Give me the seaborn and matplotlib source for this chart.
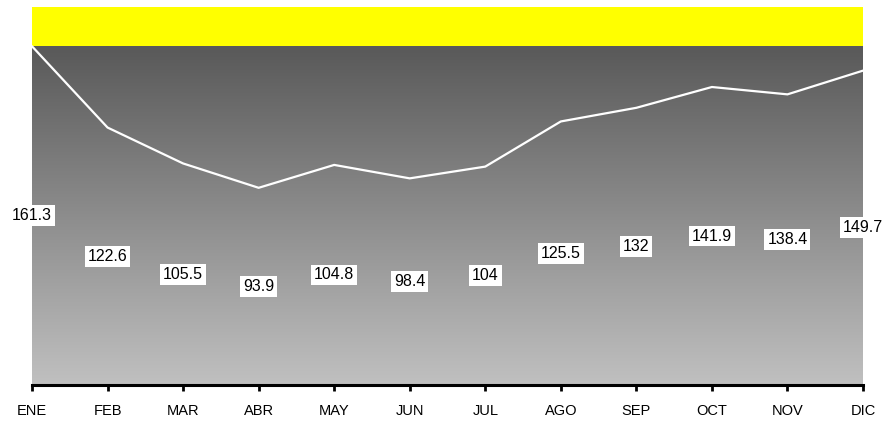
import numpy as np
import pandas as pd
import matplotlib
matplotlib.use("Agg")
import matplotlib.pyplot as plt
from matplotlib.colors import LinearSegmentedColormap
import seaborn as sns

# Monthly values
months = ["ENE", "FEB", "MAR", "ABR", "MAY", "JUN", "JUL", "AGO", "SEP", "OCT", "NOV", "DIC"]
values = [161.3, 122.6, 105.5, 93.9, 104.8, 98.4, 104.0, 125.5, 132.0, 141.9, 138.4, 149.7]
value_labels = ["161.3", "122.6", "105.5", "93.9", "104.8", "98.4", "104", "125.5", "132", "141.9", "138.4", "149.7"]

df = pd.DataFrame({"mes": months, "valor": values, "x": np.arange(len(months))})

sns.set_style("white")
plt.rcParams["font.family"] = ["Liberation Sans", "DejaVu Sans"]

fig = plt.figure(figsize=(8.84, 4.21), dpi=100)
ax = fig.add_axes([32 / 884, 1 - 385 / 421, (863 - 32) / 884, (385 - 7) / 421])

ymax = 180
vmax = max(values)
n = len(months)

# Vertical gray gradient below the maximum, yellow band above it
cmap = LinearSegmentedColormap.from_list("gris", ["#c0c0c0", "#595959"])
grad = np.linspace(0, 1, 256).reshape(-1, 1)
ax.imshow(grad, cmap=cmap, aspect="auto", origin="lower",
          extent=[0, n - 1, 0, vmax], zorder=0, interpolation="bilinear")
ax.axhspan(vmax, ymax, color="#ffff00", zorder=0, lw=0)

sns.lineplot(data=df, x="x", y="valor", color="white", lw=1.6, ax=ax, zorder=3)

# Value labels sit halfway up each month's value
for xi, v, lab in zip(df["x"], values, value_labels):
    ax.text(xi, v / 2, lab, ha="center", va="center", fontsize=11.5, color="black",
            bbox=dict(boxstyle="square,pad=0.18", fc="white", ec="none"), zorder=4)

ax.set_xlim(0, n - 1)
ax.set_ylim(0, ymax)
ax.set_xticks(df["x"])
ax.set_xticklabels(months, fontsize=10.5, color="black")
ax.set_yticks([])
ax.set_xlabel("")
ax.set_ylabel("")

for side in ["top", "left", "right"]:
    ax.spines[side].set_visible(False)
ax.spines["bottom"].set_color("black")
ax.spines["bottom"].set_linewidth(2.2)
ax.spines["bottom"].set_zorder(5)
ax.tick_params(axis="x", direction="out", length=4, width=2, color="black", pad=10,
               bottom=True)

fig.savefig("out.png", dpi=100)
